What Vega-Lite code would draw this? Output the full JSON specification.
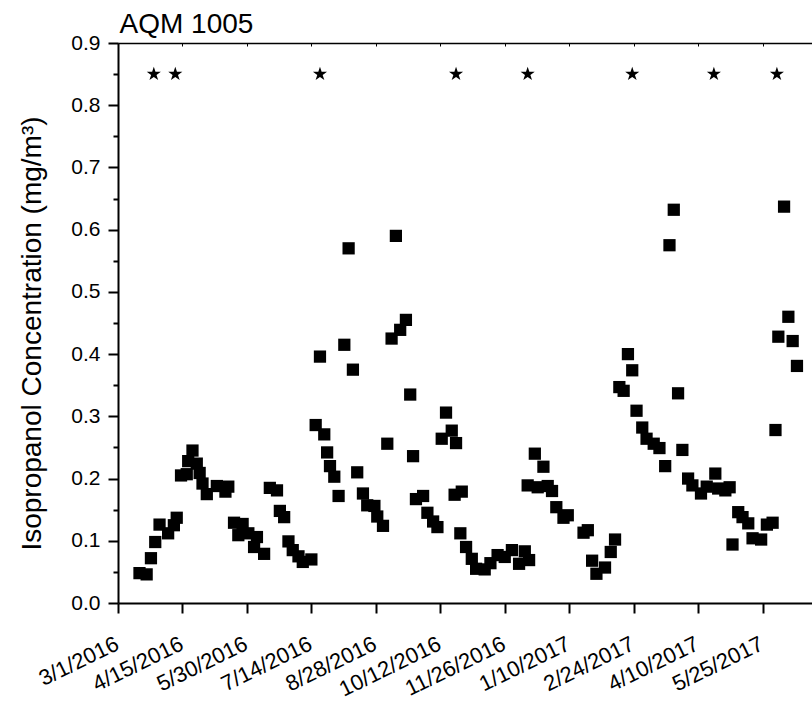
{
  "$schema": "https://vega.github.io/schema/vega-lite/v6.json",
  "autosize": {"type": "none"},
  "width": 694,
  "height": 560,
  "padding": {"left": 118, "top": 43, "right": 0, "bottom": 101},
  "config": {
    "font": "Liberation Sans",
    "view": {"stroke": null},
    "axis": {"grid": false, "domainColor": "black", "tickColor": "black", "labelColor": "black", "titleColor": "black", "labelFont": "Liberation Sans", "titleFont": "Liberation Sans"}
  },
  "layer": [
    {
      "data": {"values": [
        {"date": "2016-03-16", "value": 0.048}, {"date": "2016-03-21", "value": 0.046}, {"date": "2016-03-24", "value": 0.072}, {"date": "2016-03-27", "value": 0.098}, {"date": "2016-03-30", "value": 0.126},
        {"date": "2016-04-05", "value": 0.112}, {"date": "2016-04-09", "value": 0.125}, {"date": "2016-04-11", "value": 0.137}, {"date": "2016-04-14", "value": 0.205}, {"date": "2016-04-18", "value": 0.207},
        {"date": "2016-04-19", "value": 0.228}, {"date": "2016-04-22", "value": 0.245}, {"date": "2016-04-25", "value": 0.224}, {"date": "2016-04-27", "value": 0.209}, {"date": "2016-04-29", "value": 0.192},
        {"date": "2016-05-02", "value": 0.175}, {"date": "2016-05-09", "value": 0.188}, {"date": "2016-05-15", "value": 0.179}, {"date": "2016-05-17", "value": 0.187}, {"date": "2016-05-21", "value": 0.129},
        {"date": "2016-05-24", "value": 0.109}, {"date": "2016-05-27", "value": 0.127}, {"date": "2016-05-31", "value": 0.112}, {"date": "2016-06-04", "value": 0.090}, {"date": "2016-06-06", "value": 0.106},
        {"date": "2016-06-11", "value": 0.079}, {"date": "2016-06-15", "value": 0.185}, {"date": "2016-06-20", "value": 0.181}, {"date": "2016-06-22", "value": 0.148}, {"date": "2016-06-25", "value": 0.138},
        {"date": "2016-06-28", "value": 0.099}, {"date": "2016-07-01", "value": 0.085}, {"date": "2016-07-05", "value": 0.075}, {"date": "2016-07-08", "value": 0.066}, {"date": "2016-07-14", "value": 0.070},
        {"date": "2016-07-17", "value": 0.286}, {"date": "2016-07-20", "value": 0.396}, {"date": "2016-07-23", "value": 0.271}, {"date": "2016-07-25", "value": 0.242}, {"date": "2016-07-27", "value": 0.220},
        {"date": "2016-07-30", "value": 0.203}, {"date": "2016-08-02", "value": 0.172}, {"date": "2016-08-06", "value": 0.415}, {"date": "2016-08-09", "value": 0.570}, {"date": "2016-08-12", "value": 0.375},
        {"date": "2016-08-15", "value": 0.210}, {"date": "2016-08-19", "value": 0.176}, {"date": "2016-08-22", "value": 0.157}, {"date": "2016-08-27", "value": 0.156}, {"date": "2016-08-29", "value": 0.139},
        {"date": "2016-09-02", "value": 0.124}, {"date": "2016-09-05", "value": 0.256}, {"date": "2016-09-08", "value": 0.425}, {"date": "2016-09-11", "value": 0.590}, {"date": "2016-09-14", "value": 0.439},
        {"date": "2016-09-18", "value": 0.455}, {"date": "2016-09-21", "value": 0.335}, {"date": "2016-09-23", "value": 0.236}, {"date": "2016-09-25", "value": 0.167}, {"date": "2016-09-30", "value": 0.172},
        {"date": "2016-10-03", "value": 0.145}, {"date": "2016-10-07", "value": 0.131}, {"date": "2016-10-10", "value": 0.122}, {"date": "2016-10-13", "value": 0.264}, {"date": "2016-10-16", "value": 0.306},
        {"date": "2016-10-20", "value": 0.277}, {"date": "2016-10-23", "value": 0.257}, {"date": "2016-10-22", "value": 0.174}, {"date": "2016-10-27", "value": 0.179}, {"date": "2016-10-26", "value": 0.112},
        {"date": "2016-10-30", "value": 0.090}, {"date": "2016-11-03", "value": 0.071}, {"date": "2016-11-06", "value": 0.055}, {"date": "2016-11-12", "value": 0.054}, {"date": "2016-11-16", "value": 0.064},
        {"date": "2016-11-21", "value": 0.077}, {"date": "2016-11-26", "value": 0.074}, {"date": "2016-12-01", "value": 0.085}, {"date": "2016-12-06", "value": 0.063}, {"date": "2016-12-10", "value": 0.083},
        {"date": "2016-12-13", "value": 0.069}, {"date": "2016-12-12", "value": 0.189}, {"date": "2016-12-17", "value": 0.240}, {"date": "2016-12-19", "value": 0.186}, {"date": "2016-12-23", "value": 0.219},
        {"date": "2016-12-26", "value": 0.188}, {"date": "2016-12-29", "value": 0.180}, {"date": "2017-01-01", "value": 0.154}, {"date": "2017-01-06", "value": 0.137}, {"date": "2017-01-09", "value": 0.141},
        {"date": "2017-01-20", "value": 0.113}, {"date": "2017-01-23", "value": 0.117}, {"date": "2017-01-26", "value": 0.068}, {"date": "2017-01-29", "value": 0.047}, {"date": "2017-02-04", "value": 0.057},
        {"date": "2017-02-08", "value": 0.082}, {"date": "2017-02-11", "value": 0.102}, {"date": "2017-02-14", "value": 0.347}, {"date": "2017-02-17", "value": 0.341}, {"date": "2017-02-20", "value": 0.400},
        {"date": "2017-02-23", "value": 0.374}, {"date": "2017-02-26", "value": 0.309}, {"date": "2017-03-02", "value": 0.282}, {"date": "2017-03-05", "value": 0.264}, {"date": "2017-03-10", "value": 0.256},
        {"date": "2017-03-14", "value": 0.249}, {"date": "2017-03-18", "value": 0.220}, {"date": "2017-03-21", "value": 0.575}, {"date": "2017-03-24", "value": 0.632}, {"date": "2017-03-27", "value": 0.337},
        {"date": "2017-03-30", "value": 0.246}, {"date": "2017-04-03", "value": 0.200}, {"date": "2017-04-06", "value": 0.189}, {"date": "2017-04-12", "value": 0.176}, {"date": "2017-04-16", "value": 0.187},
        {"date": "2017-04-22", "value": 0.208}, {"date": "2017-04-24", "value": 0.184}, {"date": "2017-04-29", "value": 0.181}, {"date": "2017-05-02", "value": 0.186}, {"date": "2017-05-04", "value": 0.094},
        {"date": "2017-05-08", "value": 0.146}, {"date": "2017-05-11", "value": 0.138}, {"date": "2017-05-15", "value": 0.128}, {"date": "2017-05-18", "value": 0.104}, {"date": "2017-05-24", "value": 0.102},
        {"date": "2017-05-28", "value": 0.126}, {"date": "2017-06-01", "value": 0.129}, {"date": "2017-06-03", "value": 0.278}, {"date": "2017-06-05", "value": 0.428}, {"date": "2017-06-09", "value": 0.637},
        {"date": "2017-06-12", "value": 0.460}, {"date": "2017-06-15", "value": 0.421}, {"date": "2017-06-18", "value": 0.381}
      ]},
      "mark": {"type": "point", "shape": "square", "filled": true, "size": 150, "color": "black", "opacity": 1, "strokeWidth": 0},
      "encoding": {
        "x": {
          "field": "date", "type": "temporal",
          "scale": {"type": "utc", "domain": [{"year": 2016, "month": 3, "date": 1, "utc": true}, {"year": 2017, "month": 6, "date": 28, "hours": 12, "utc": true}], "nice": false},
          "axis": {
            "orient": "bottom",
            "values": [
              {"year": 2016, "month": 3, "date": 1, "utc": true}, {"year": 2016, "month": 4, "date": 15, "utc": true}, {"year": 2016, "month": 5, "date": 30, "utc": true},
              {"year": 2016, "month": 7, "date": 14, "utc": true}, {"year": 2016, "month": 8, "date": 28, "utc": true}, {"year": 2016, "month": 10, "date": 12, "utc": true},
              {"year": 2016, "month": 11, "date": 26, "utc": true}, {"year": 2017, "month": 1, "date": 10, "utc": true}, {"year": 2017, "month": 2, "date": 24, "utc": true},
              {"year": 2017, "month": 4, "date": 10, "utc": true}, {"year": 2017, "month": 5, "date": 25, "utc": true}
            ],
            "labelExpr": "utcFormat(datum.value, '%-m/%-d/%Y')",
            "labelAngle": -26, "labelAlign": "right", "labelBaseline": "top", "labelFontSize": 22,
            "labelPadding": 20, "labelOffset": -5.5, "labelOverlap": false, "labelBound": false, "labelFlush": false,
            "tickSize": 10, "tickWidth": 2, "domainWidth": 2, "title": null
          }
        },
        "y": {
          "field": "value", "type": "quantitative",
          "scale": {"domain": [0, 0.9], "nice": false, "zero": false},
          "axis": {
            "orient": "left",
            "values": [0, 0.05, 0.1, 0.15, 0.2, 0.25, 0.3, 0.35, 0.4, 0.45, 0.5, 0.55, 0.6, 0.65, 0.7, 0.75, 0.8, 0.85, 0.9],
            "labelExpr": "round(datum.value * 100) % 10 === 0 ? format(datum.value, '.1f') : ''",
            "tickSize": {"condition": {"test": "round(datum.value * 100) % 10 === 0", "value": 10}, "value": 5},
            "tickWidth": 2, "domainWidth": 2, "labelFontSize": 21, "labelPadding": 8,
            "labelOverlap": false, "labelBound": false, "labelFlush": false,
            "title": "Isopropanol Concentration (mg/m³)", "titleFontSize": 28, "titleFontWeight": "normal", "titlePadding": 24, "titleY": 290
          }
        }
      }
    },
    {
      "data": {"values": [
        {"date": "2016-03-26", "value": 0.85}, {"date": "2016-04-10", "value": 0.85}, {"date": "2016-07-20", "value": 0.85}, {"date": "2016-10-23", "value": 0.85},
        {"date": "2016-12-12", "value": 0.85}, {"date": "2017-02-23", "value": 0.85}, {"date": "2017-04-21", "value": 0.85}, {"date": "2017-06-04", "value": 0.85}
      ]},
      "mark": {"type": "point", "shape": "M0,-1L0.2245,-0.309L0.951,-0.309L0.363,0.118L0.588,0.809L0,0.382L-0.588,0.809L-0.363,0.118L-0.951,-0.309L-0.2245,-0.309Z", "filled": true, "size": 220, "color": "black", "opacity": 1, "strokeWidth": 0},
      "encoding": {
        "x": {
          "field": "date", "type": "temporal",
          "axis": {
            "orient": "top",
            "values": [
              {"year": 2016, "month": 3, "date": 1, "utc": true}, {"year": 2016, "month": 4, "date": 15, "utc": true}, {"year": 2016, "month": 5, "date": 30, "utc": true},
              {"year": 2016, "month": 7, "date": 14, "utc": true}, {"year": 2016, "month": 8, "date": 28, "utc": true}, {"year": 2016, "month": 10, "date": 12, "utc": true},
              {"year": 2016, "month": 11, "date": 26, "utc": true}, {"year": 2017, "month": 1, "date": 10, "utc": true}, {"year": 2017, "month": 2, "date": 24, "utc": true},
              {"year": 2017, "month": 4, "date": 10, "utc": true}, {"year": 2017, "month": 5, "date": 25, "utc": true}
            ],
            "labels": false, "tickSize": -3, "tickWidth": 1, "domainWidth": 1.5,
            "title": "AQM 1005", "titleX": 1, "titleY": -11, "titleAlign": "left", "titleAnchor": "start", "titleBaseline": "alphabetic",
            "titleFontSize": 28, "titleFontWeight": "normal", "titleAngle": 0
          }
        },
        "y": {"field": "value", "type": "quantitative", "axis": null}
      }
    }
  ],
  "resolve": {"axis": {"x": "independent", "y": "independent"}}
}
